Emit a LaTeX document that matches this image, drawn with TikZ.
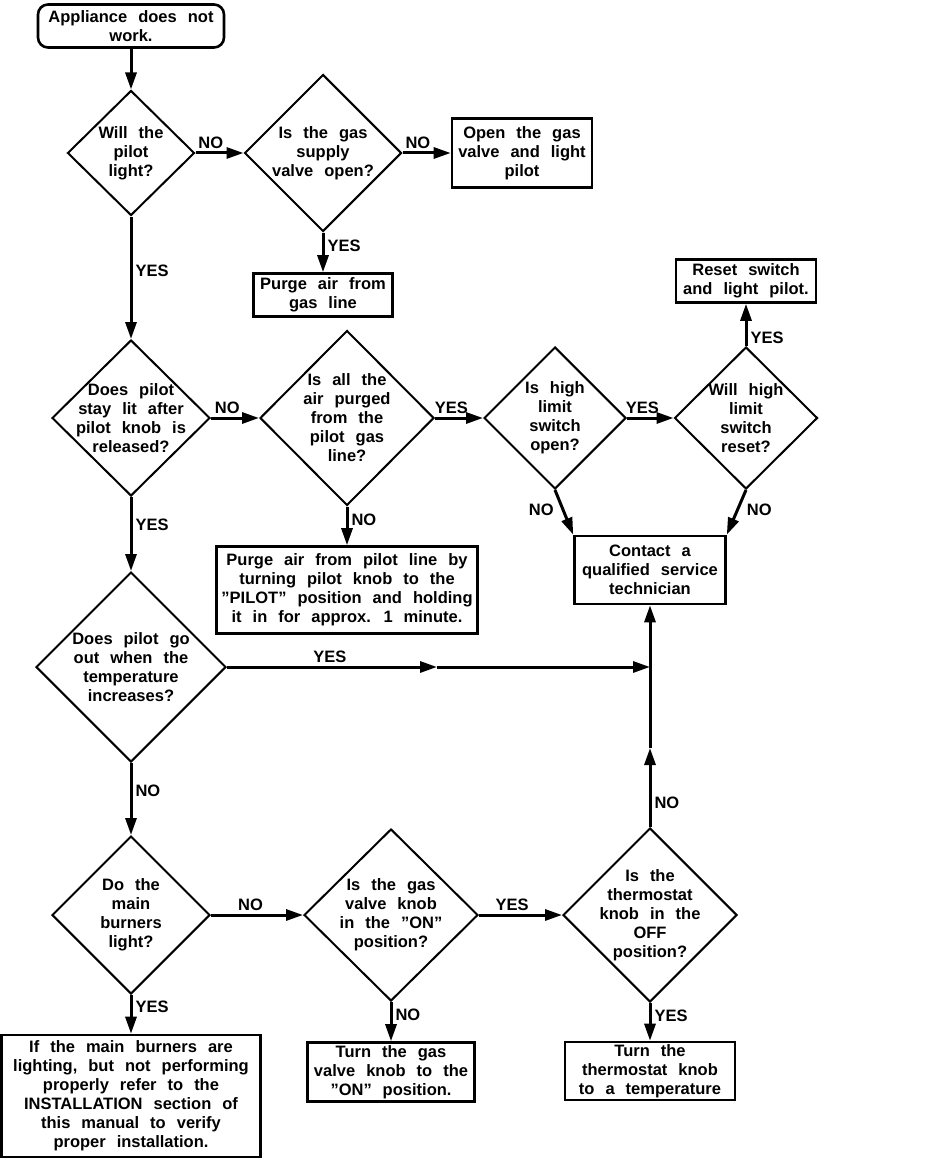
\documentclass[tikz,border=0pt]{standalone}
\usepackage{fontspec}
\setmainfont{Liberation Sans}[WordSpace=2.4]
\usetikzlibrary{shapes,arrows.meta,positioning,calc}

\begin{document}
\begin{tikzpicture}[x=1pt,y=-1pt,
		font=\fontsize{16.5}{19}\selectfont\bfseries,
		box/.style={rectangle,draw,line width=2.6pt,align=center,inner sep=2pt},
		decision/.style={diamond,draw,line width=2pt,inner sep=0pt},
		qtext/.style={align=center,inner sep=0pt},
		arr/.style={-{Triangle[length=17pt,width=11pt]},line width=3pt},
		lbl/.style={inner sep=3pt}]
		\useasboundingbox (0,0) rectangle (928,1161);
		% start
		\node[box,rounded corners=10pt,minimum width=186,minimum height=43] (start) at (131,26) {Appliance does not\\work.};
		% pilot branch
		\node[decision,minimum width=127,minimum height=125,label={[qtext]center:Will the\\pilot\\light?}] (d1) at (131,153) {};
		\node[decision,minimum width=157,minimum height=157,label={[qtext]center:Is the gas\\supply\\valve open?}] (d2) at (323,153) {};
		\node[box,minimum width=140,minimum height=69] (open) at (522,153) {Open the gas\\valve and light\\pilot};
		\node[box,minimum width=139,minimum height=43] (purge1) at (323,295) {Purge air from\\gas line};
		\node[decision,minimum width=158,minimum height=156,label={[qtext]center:Does pilot\\stay lit after\\pilot knob is\\released?}] (d3) at (131,418) {};
		\node[decision,minimum width=174,minimum height=175,label={[qtext]center:Is all the\\air purged\\from the\\pilot gas\\line?}] (d4) at (347,418) {};
		\node[box,minimum width=261,minimum height=87] (purge2) at (347,590) {Purge air from pilot line by\\turning pilot knob to the\\"PILOT" position and holding\\it in for approx. 1 minute.};
		% high limit switch
		\node[decision,minimum width=142,minimum height=142,label={[qtext]center:Is high\\limit\\switch\\open?}] (d5) at (555,418) {};
		\node[decision,minimum width=143,minimum height=142,label={[qtext]center:Will high\\limit\\switch\\reset?}] (d6) at (746,418) {};
		\node[box,minimum width=140,minimum height=43] (reset) at (746,281) {Reset switch\\and light pilot.};
		\node[box,minimum width=151,minimum height=68] (contact) at (650,570) {Contact a\\qualified service\\technician};
		% main burners
		\node[decision,minimum width=190,minimum height=190,label={[qtext]center:Does pilot go\\out when the\\temperature\\increases?}] (d7) at (131,667) {};
		\node[decision,minimum width=158,minimum height=158,label={[qtext]center:Do the\\main\\burners\\light?}] (d8) at (131,915) {};
		\node[decision,minimum width=174,minimum height=172,label={[qtext]center:Is the gas\\valve knob\\in the "ON"\\position?}] (d10) at (391,915) {};
		\node[decision,minimum width=174,minimum height=174,label={[qtext]center:Is the\\thermostat\\knob in the\\OFF\\position?}] (d9) at (650,915) {};
		\node[box,minimum width=259,minimum height=122] (install) at (131,1096) {If the main burners are\\lighting, but not performing\\properly refer to the\\INSTALLATION section of\\this manual to verify\\proper installation.};
		\node[box,minimum width=167,minimum height=59] (turngas) at (391,1072) {Turn the gas\\valve knob to the\\"ON" position.};
		\node[box,minimum width=170,minimum height=58] (turnthermo) at (650,1071) {Turn the\\thermostat knob\\to a temperature};
		\coordinate (m1) at (437,667);
		\coordinate (j1) at (650,667);
		\coordinate (m2) at (650,748);
		% connectors
		\draw[arr] (start) -- (d1);
		\draw[arr] (d1.east) -- (d2.west) node[lbl,above,pos=0.32]{NO};
		\draw[arr] (d2.east) -- (open.west) node[lbl,above,pos=0.32]{NO};
		\draw[arr] (d2.south) -- (purge1.north) node[lbl,right,pos=0.33]{YES};
		\draw[arr] (d1.south) -- (d3.north) node[lbl,right,pos=0.44]{YES};
		\draw[arr] (d3.east) -- (d4.west) node[lbl,above,pos=0.34]{NO};
		\draw[arr] (d4.east) -- (d5.west) node[lbl,above,pos=0.34]{YES};
		\draw[arr] (d4.south) -- (purge2.north) node[lbl,right,pos=0.34]{NO};
		\draw[arr] (d5.east) -- (d6.west) node[lbl,above,pos=0.33]{YES};
		\draw[arr] (d6.north) -- (reset.south) node[lbl,right,pos=0.2]{YES};
		\draw[arr] (d5.south) -- (contact.north west) node[lbl,left,pos=0.45,xshift=-5pt]{NO};
		\draw[arr] (d6.south) -- (contact.north east) node[lbl,right,pos=0.45,xshift=5pt]{NO};
		\draw[arr] (d3.south) -- (d7.north) node[lbl,right,pos=0.38]{YES};
		\draw[arr] (d7.east) -- (m1) node[lbl,above,pos=0.49]{YES};
		\draw[arr] (m1) -- (j1);
		\draw[arr] (d7.south) -- (d8.north) node[lbl,right,pos=0.39]{NO};
		\draw[arr] (d8.east) -- (d10.west) node[lbl,above,pos=0.43]{NO};
		\draw[arr] (d10.east) -- (d9.west) node[lbl,above,pos=0.4]{YES};
		\draw[arr] (d9.north) -- (m2) node[lbl,right,pos=0.3]{NO};
		\draw[arr] (m2) -- (contact.south);
		\draw[arr] (d8.south) -- (install.north) node[lbl,right,pos=0.3]{YES};
		\draw[arr] (d10.south) -- (turngas.north) node[lbl,right,pos=0.33]{NO};
		\draw[arr] (d9.south) -- (turnthermo.north) node[lbl,right,pos=0.35]{YES};
	\end{tikzpicture}
\end{document}
